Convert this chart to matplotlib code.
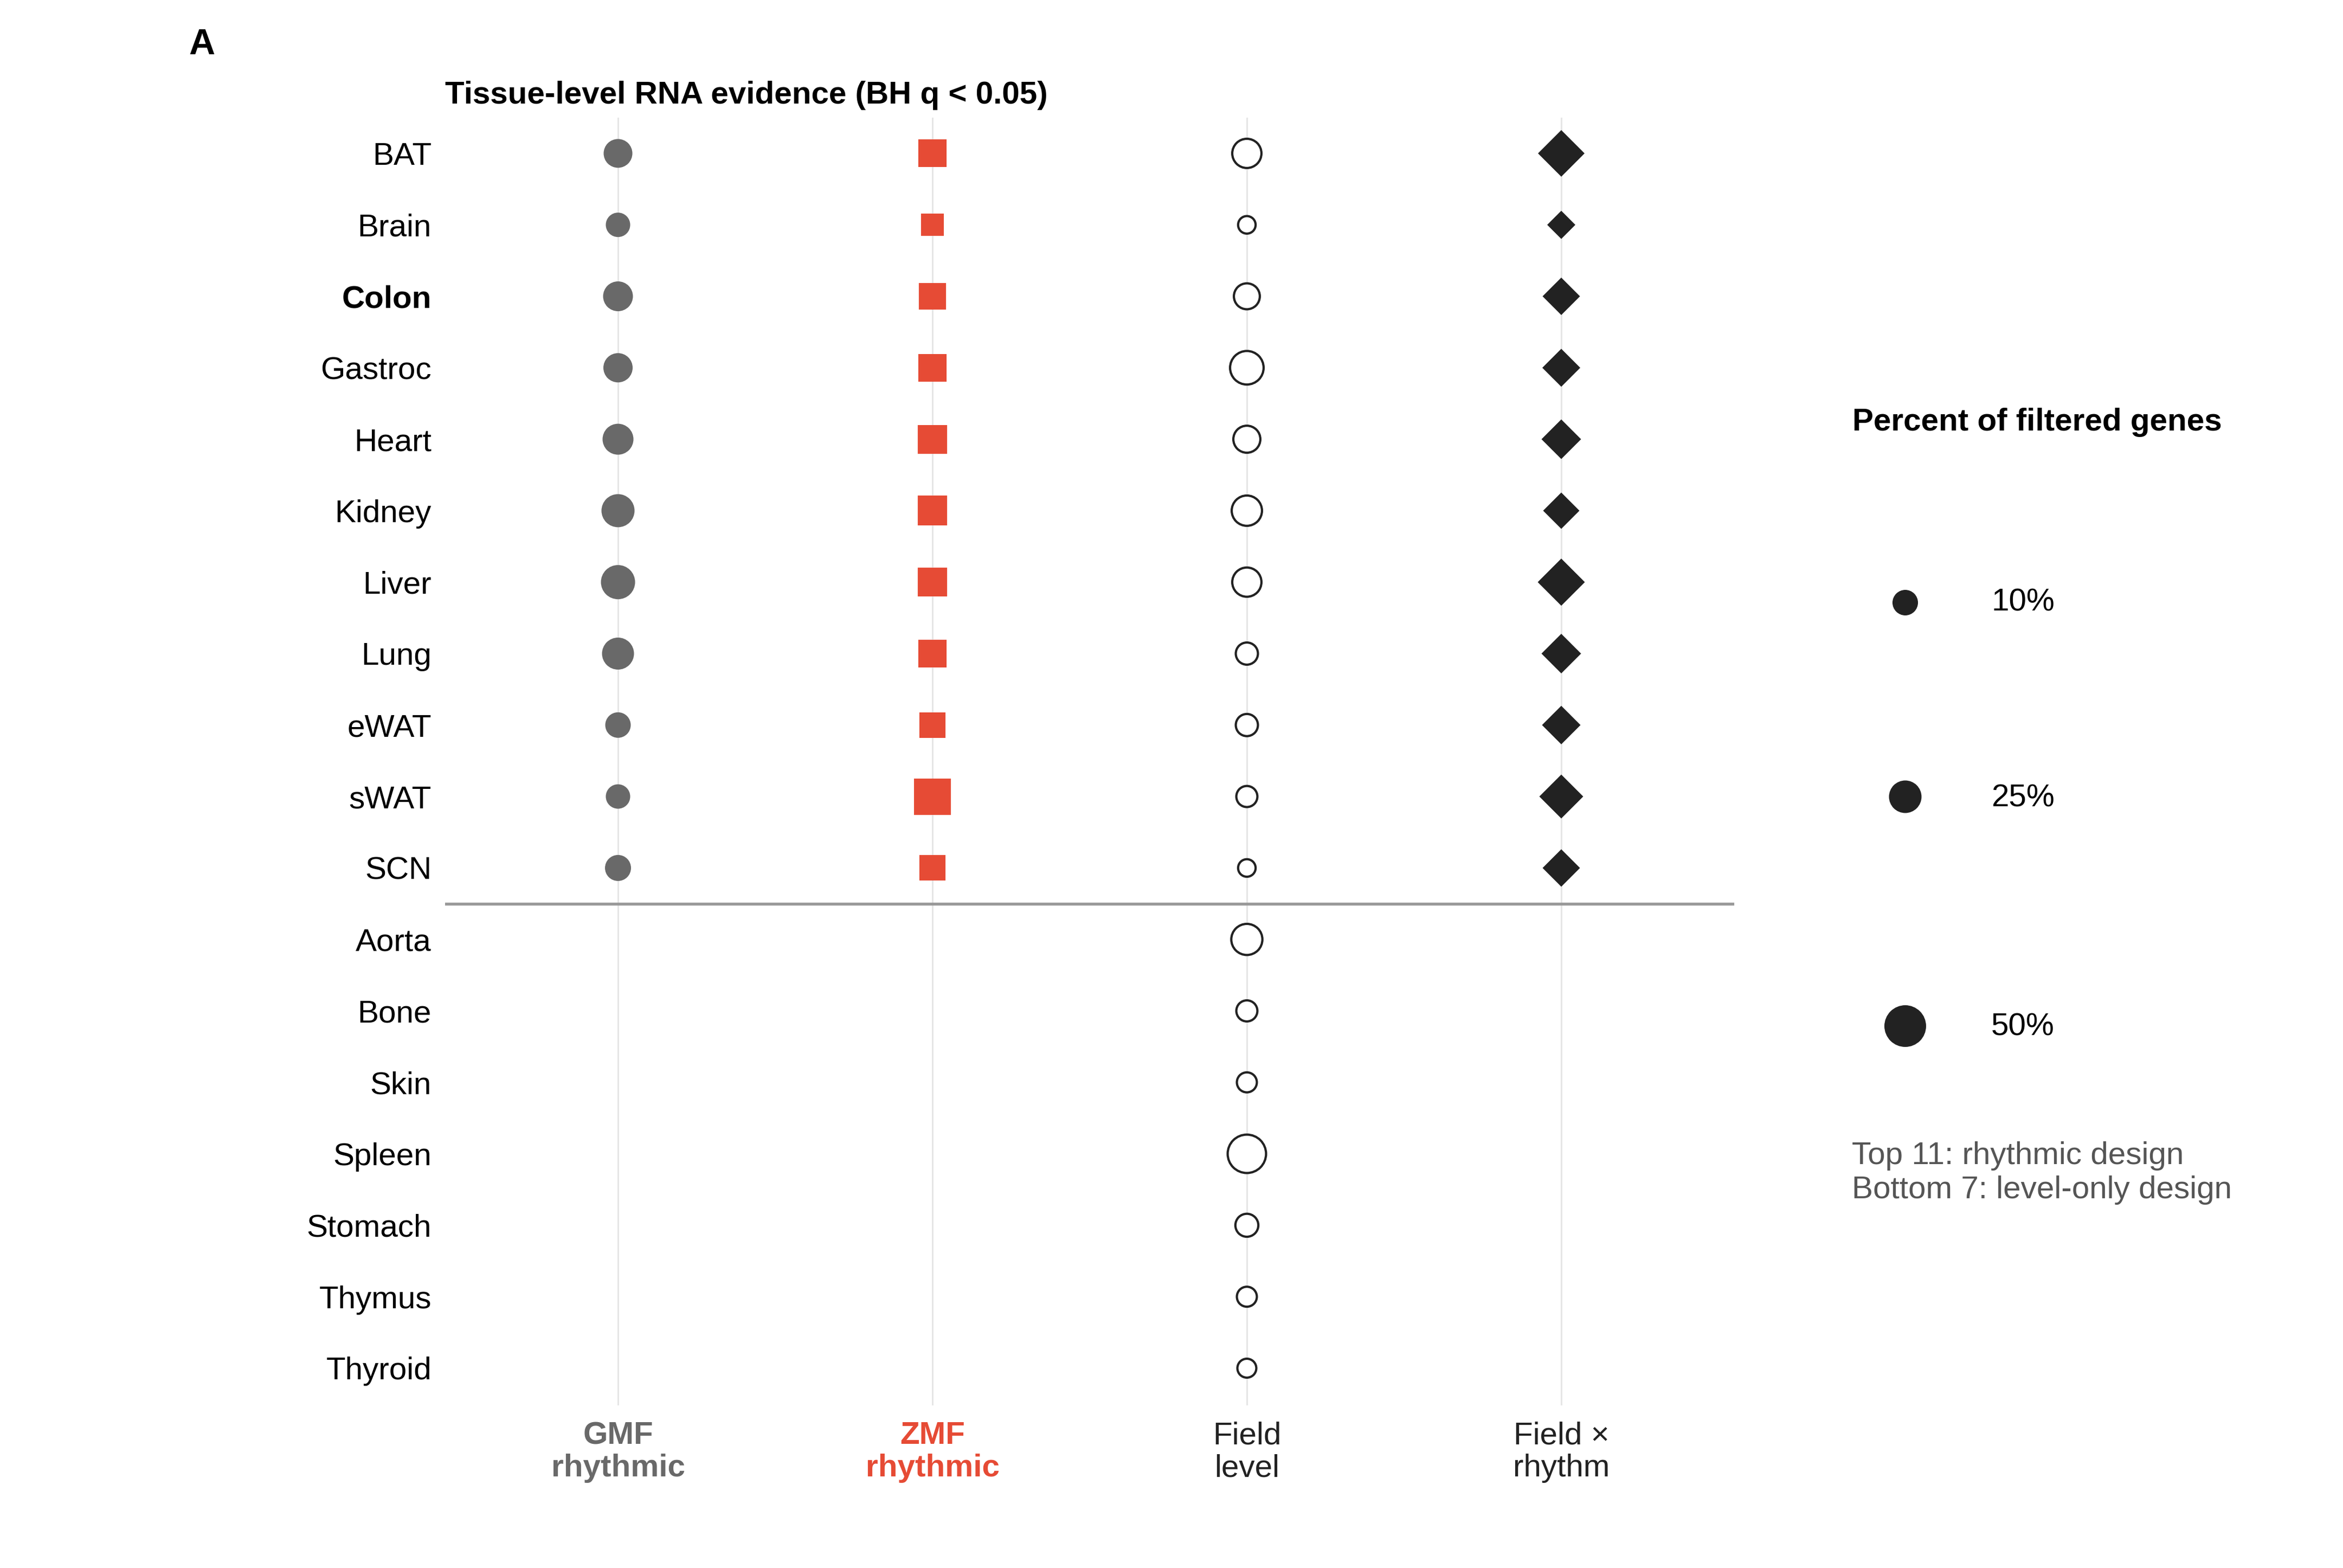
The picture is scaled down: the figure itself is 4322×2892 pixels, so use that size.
import matplotlib
matplotlib.use("Agg")
import matplotlib.pyplot as plt
import numpy as np
from matplotlib.lines import Line2D

plt.rcParams["font.family"] = ["Liberation Sans", "DejaVu Sans"]

# ---- data (percent of filtered genes, BH q < 0.05) ----
tissues = ["BAT", "Brain", "Colon", "Gastroc", "Heart", "Kidney", "Liver", "Lung",
           "eWAT", "sWAT", "SCN", "Aorta", "Bone", "Skin", "Spleen", "Stomach",
           "Thymus", "Thyroid"]
n_rhythmic = 11  # first 11 tissues have a rhythmic design
columns = ["GMF\nrhythmic", "ZMF\nrhythmic", "Field\nlevel", "Field \u00d7\nrhythm"]

gmf_pct = [16.5, 8.0, 18.8, 17.6, 21.2, 26.3, 29.0, 23.7, 10.0, 8.0, 11.0]
zmf_pct = [21.9, 9.3, 19.2, 21.9, 24.8, 27.7, 24.8, 21.9, 16.5, 47.9, 16.5]
level_pct = [22.5, 0.5, 15.3, 33.2, 17.6, 25.0, 22.5, 8.0, 8.0, 6.1, 0.5,
             27.0, 6.1, 4.3, 46.8, 9.5, 4.3, 2.6]
interaction_pct = [36.9, 4.7, 18.9, 19.8, 22.8, 17.0, 38.1, 22.8, 20.8, 31.2, 18.9]
legend_pct = [10, 25, 50]

GMF_COL = "#696969"
ZMF_COL = "#E64B35"
DARK = "#222222"

W, H, DPI = 4322, 2892, 300


def fx(px):
    return px / W


def fy(py):
    return 1 - py / H


def area(p):
    # marker area in pt^2, proportional to percent (equal-area across shapes)
    return 74 + 5.34 * np.asarray(p, float)


fig = plt.figure(figsize=(W / DPI, H / DPI), dpi=DPI)
ax = fig.add_axes([fx(821), fy(2592), (3199 - 821) / W, (2592 - 217) / H])

y_top = np.arange(n_rhythmic)
y_all = np.arange(len(tissues))

ax.scatter(np.zeros(n_rhythmic), y_top, s=area(gmf_pct), marker="o",
           color=GMF_COL, linewidths=0, zorder=3)
ax.scatter(np.ones(n_rhythmic), y_top, s=0.785 * area(zmf_pct), marker="s",
           color=ZMF_COL, linewidths=0, zorder=3)
ax.scatter(np.full(len(tissues), 2), y_all, s=(np.sqrt(area(level_pct)) - 1.0) ** 2,
           marker="o", facecolors="white", edgecolors=DARK, linewidths=1.0, zorder=3)
ax.scatter(np.full(n_rhythmic, 3), y_top, s=0.785 * area(interaction_pct), marker="D",
           color=DARK, linewidths=0, zorder=3)

ax.axhline(n_rhythmic - 0.5, color="#999999", lw=1.3, zorder=2)

ax.set_xlim(-0.55, 3.55)
ax.set_ylim(len(tissues) - 0.48, -0.5)
ax.set_xticks(range(len(columns)))
ax.set_xticklabels(columns, fontsize=14, linespacing=1.15)
ax.set_yticks(y_all)
ax.set_yticklabels(tissues, fontsize=14)
ax.grid(axis="x", color="#E5E5E5", lw=0.7)
ax.grid(axis="y", visible=False)
ax.set_axisbelow(True)
for sp in ax.spines.values():
    sp.set_visible(False)
ax.tick_params(axis="both", length=0)
ax.tick_params(axis="y", pad=6)
ax.tick_params(axis="x", pad=7)

for lab, col, wt in zip(ax.get_xticklabels(), [GMF_COL, ZMF_COL, DARK, DARK],
                        ["bold", "bold", "normal", "normal"]):
    lab.set_color(col)
    lab.set_fontweight(wt)
for lab in ax.get_yticklabels():
    lab.set_color("black")
    if lab.get_text() == "Colon":
        lab.set_fontweight("bold")

# titles
fig.text(fx(348), fy(100), "A", fontsize=16, fontweight="bold", va="baseline")
fig.text(fx(821), fy(191), "Tissue-level RNA evidence (BH q < 0.05)",
         fontsize=14, fontweight="bold", va="baseline")

# size legend
fig.text(fx(3417), fy(794), "Percent of filtered genes", fontsize=14,
         fontweight="bold", va="baseline")
legend_dot_y = [1111, 1469, 1892]
legend_text_y = [1127, 1488, 1910]
for pct, yd, yt in zip(legend_pct, legend_dot_y, legend_text_y):
    fig.add_artist(Line2D([fx(3514)], [fy(yd)], marker="o", linestyle="none",
                          markersize=np.sqrt(area(pct)), color=DARK,
                          markeredgewidth=0, transform=fig.transFigure))
    fig.text(fx(3673), fy(yt), f"{pct}%", fontsize=14, va="baseline")

fig.text(fx(3416), fy(2147), "Top 11: rhythmic design", fontsize=14,
         color="#555555", va="baseline")
fig.text(fx(3416), fy(2210), "Bottom 7: level-only design", fontsize=14,
         color="#555555", va="baseline")

fig.savefig("out.png", dpi=DPI, facecolor="white")
